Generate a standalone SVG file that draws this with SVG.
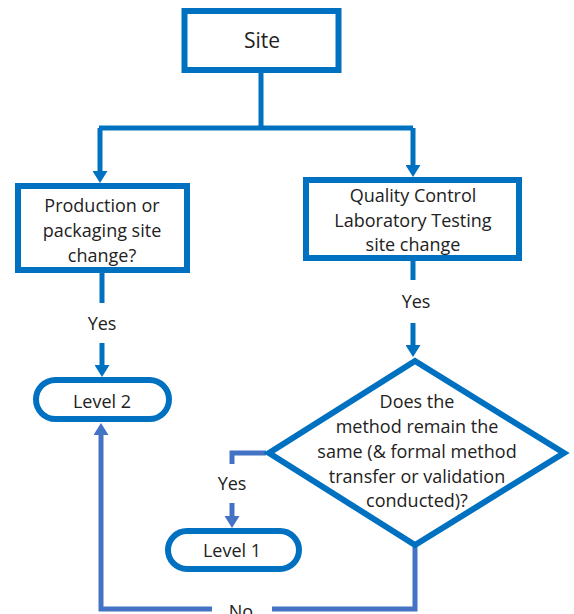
<svg xmlns="http://www.w3.org/2000/svg" width="574" height="614" viewBox="0 0 574 614">
<defs>
<style>
.box{fill:#fff;stroke:#0070C0;stroke-width:6}
.c1{fill:none;stroke:#0070C0;stroke-width:5}
.c2{fill:none;stroke:#4472C4;stroke-width:5}
text{font-family:"Open Sans","Liberation Sans",sans-serif;font-size:18px;fill:#222;text-anchor:middle}
</style>
<marker id="a1" markerUnits="userSpaceOnUse" viewBox="0 0 12 15" markerWidth="12" markerHeight="15" refX="6" refY="7.5" orient="auto"><path d="M0,0 L12,7.5 L0,15 z" fill="#0070C0"/></marker>
<marker id="a2" markerUnits="userSpaceOnUse" viewBox="0 0 12 15" markerWidth="12" markerHeight="15" refX="6" refY="7.5" orient="auto"><path d="M0,0 L12,7.5 L0,15 z" fill="#4472C4"/></marker>
</defs>
<g id="connectors">
<path class="c1" d="M261,73 V128 M99,128 H413"/>
<path class="c1" d="M100,128 V177" marker-end="url(#a1)"/>
<path class="c1" d="M413,128 V171" marker-end="url(#a1)"/>
<path class="c1" d="M102,273 V303"/>
<path class="c1" d="M102,343 V371" marker-end="url(#a1)"/>
<path class="c1" d="M413,261 V280"/>
<path class="c1" d="M413,323 V351" marker-end="url(#a1)"/>
<path class="c2" d="M266,453 H232 V464"/>
<path class="c2" d="M232,503 V522" marker-end="url(#a2)"/>
<path class="c2" d="M415,547 V609 H272"/>
<path class="c2" d="M212,609 H101 V429" marker-end="url(#a2)"/>
<text x="102" y="330">Yes</text>
<text x="416" y="308">Yes</text>
<text x="232" y="490">Yes</text>
<text x="241" y="618">No</text>
</g>
<g id="site">
<rect class="box" x="184.5" y="11" width="154" height="59"/>
<text x="262" y="48" style="font-size:21px">Site</text>
</g>
<g id="production">
<rect class="box" x="18" y="186" width="169" height="84"/>
<text x="102" y="212">Production or</text>
<text x="102" y="237">packaging site</text>
<text x="102" y="262">change?</text>
</g>
<g id="qc">
<rect class="box" x="306" y="180" width="213" height="78"/>
<text x="413" y="202">Quality Control</text>
<text x="413" y="227">Laboratory Testing</text>
<text x="413" y="251">site change</text>
</g>
<g id="level2">
<rect class="box" x="36" y="380" width="133" height="39" rx="19.5"/>
<text x="102" y="408">Level 2</text>
</g>
<g id="decision">
<path class="box" d="M415,361 L564,453 L415,545 L269,453 Z"/>
<text x="417" y="408">Does the</text>
<text x="417" y="433">method remain the</text>
<text x="417" y="458">same (&amp; formal method</text>
<text x="417" y="483">transfer or validation</text>
<text x="417" y="507">conducted)?</text>
</g>
<g id="level1">
<rect class="box" x="168" y="531" width="131" height="38" rx="19"/>
<text x="232" y="557">Level 1</text>
</g>
</svg>
